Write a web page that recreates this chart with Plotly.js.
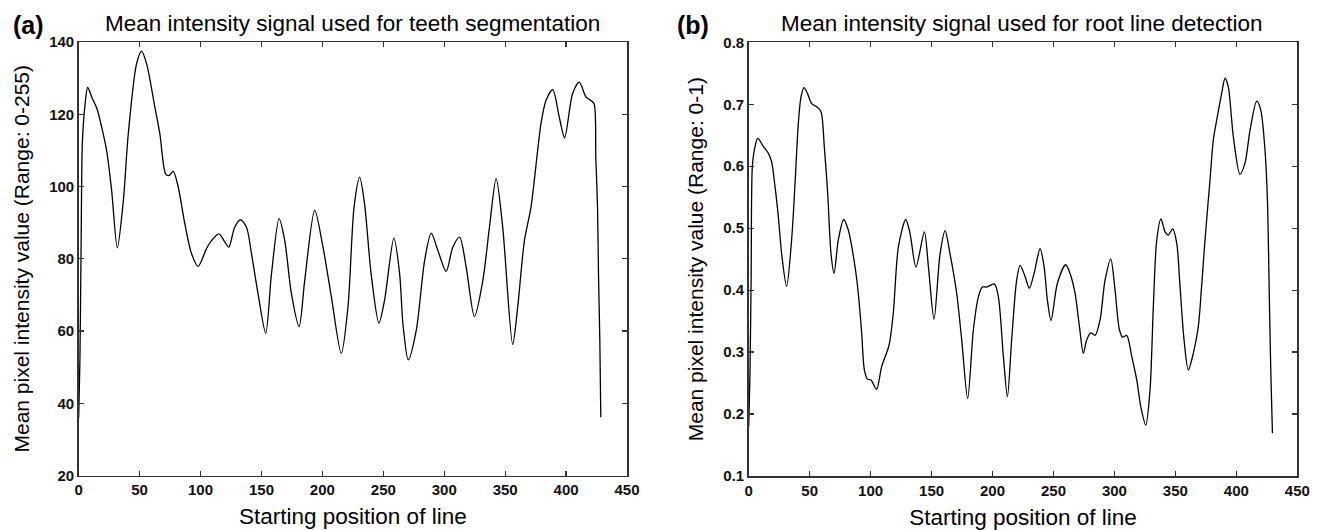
<!DOCTYPE html>
<html>
<head>
<meta charset="utf-8">
<script src="https://cdn.plot.ly/plotly-3.0.1.min.js"></script>
<style>html,body{margin:0;padding:0;background:#fff}#chart{width:1323px;height:530px}</style>
</head>
<body>
<div id="chart"></div>
<script>
// (a) Mean intensity signal used for teeth segmentation
const teethX = [0,1,2,3,5,7.4,11,15,18.8,22.9,27,31.7,36.6,40.7,47.5,51.6,55.7,62.5,66.6,71.3,74,77.6,81.7,87.1,92.6,98,104.9,109,115,120,123.2,128,132.8,137.7,141.8,147.2,153.5,158.2,164.5,169.1,174.6,180.9,185.5,193.7,200.5,207.4,215.5,221,226,230.6,234.6,240,246.4,251,258.7,263.4,266.1,270.5,277,283.9,289.3,294.8,301.6,307,312.6,318,324.8,331.7,337.1,342.6,348,356.2,360.3,365.8,371.2,379.4,383.5,389,394.4,398.8,405.3,410.8,416.3,420.4,423,424.4,425.8,426.6,427.7,428.5];
const teethY = [36,52,85,112,122,127.4,124.5,121.5,116.5,110,99,83,96,114.6,134,137.5,134,122,114.6,103.5,103,104.2,99.8,89.7,81.4,77.9,82.8,85,86.9,84.6,83.2,88.7,90.8,88.7,81.4,70.3,59.4,75.8,91.1,85,70.3,61.2,74,93.4,83.2,69.4,53.8,66.7,94.3,102.6,95.2,75.8,62.2,68.5,85.7,75.8,62,52,60.1,79.5,87.1,82.3,76.5,83.2,86,77.7,64,74,88.7,102.2,88.7,56.3,66.7,85,94.3,117.4,123.8,126.8,119.2,113.5,125.7,128.9,124.8,123.8,122.9,108.1,94.3,75.8,57.4,36.1];

// (b) Mean intensity signal used for root line detection
const rootX = [0,1,2,3,5,7.4,12,16.1,18.8,21.6,24.3,27,31.1,35.2,38,40.7,42.9,45.4,48.1,51.6,55.8,59.3,62,64.8,67.5,70,73.5,77.9,81.7,87.2,89.9,92.7,94.9,97.6,100.3,104.9,109,115.1,118.6,122.8,128.8,132.3,137.2,144.1,147.4,152,157,161.1,165.1,170.6,174.7,179.6,184.3,188.4,191.6,195.2,201.5,204.8,208.9,212.2,215.7,219.8,222.6,226.7,230.2,234.1,239,242.3,245,248,253.2,260,263.6,267.7,271.3,274.5,277.3,280.6,284.1,288.2,292.3,297,300.5,304.1,306.8,310.1,314.2,318.3,321.6,325.7,329.2,331.9,334.7,338.2,341.5,344.2,347.8,351.1,353.8,357.1,360.6,364.7,368.8,371.5,374.3,378.4,381.1,384.4,388,390.7,393.4,397.5,403,407.1,411.2,416.7,420,423.5,425.5,427.2,428.3,429.6];
const rootY = [0.18,0.26,0.42,0.6,0.63,0.645,0.632,0.621,0.607,0.567,0.519,0.459,0.406,0.481,0.572,0.669,0.712,0.727,0.718,0.701,0.696,0.688,0.632,0.556,0.459,0.427,0.481,0.514,0.497,0.438,0.395,0.330,0.271,0.256,0.255,0.24,0.276,0.311,0.363,0.470,0.514,0.492,0.437,0.494,0.438,0.353,0.459,0.496,0.459,0.395,0.320,0.225,0.336,0.389,0.405,0.405,0.41,0.389,0.293,0.228,0.320,0.416,0.44,0.422,0.403,0.427,0.467,0.438,0.384,0.351,0.411,0.441,0.427,0.395,0.341,0.298,0.32,0.331,0.327,0.352,0.416,0.45,0.40,0.336,0.324,0.327,0.293,0.255,0.212,0.182,0.239,0.373,0.481,0.515,0.494,0.489,0.499,0.476,0.406,0.32,0.271,0.298,0.341,0.406,0.481,0.578,0.642,0.680,0.718,0.742,0.728,0.648,0.587,0.605,0.658,0.705,0.691,0.626,0.545,0.373,0.266,0.169];

const xTicks = [0,50,100,150,200,250,300,350,400,450];
const teethTicks = [20,40,60,80,100,120,140];
const rootTicks = [0.1,0.2,0.3,0.4,0.5,0.6,0.7,0.8];
const rootTickText = ['0.1','0.2','0.3','0.4','0.5','0.6','0.7','0.8'];

const FONT = 'Liberation Sans, Arial, sans-serif';
const lineStyle = {color:'#000', width:1.3, shape:'spline', smoothing:0.8};

const traces = [
  {x: teethX, y: teethY, type:'scatter', mode:'lines', line: lineStyle, xaxis:'x', yaxis:'y', showlegend:false, hoverinfo:'x+y'},
  {x: rootX, y: rootY, type:'scatter', mode:'lines', line: lineStyle, xaxis:'x2', yaxis:'y2', showlegend:false, hoverinfo:'x+y'}
];

function axisBase(extra){
  return Object.assign({
    showgrid:false, zeroline:false, showline:true, linecolor:'#333', linewidth:1.5,
    mirror:'ticks', ticks:'inside', ticklen:5, tickwidth:1.2, tickcolor:'#333',
    tickfont:{family:FONT, size:15, color:'#111', weight:'bold'}, automargin:false, fixedrange:true
  }, extra);
}

const TITLE_SIZE = 22.5;
const XLABEL_SIZE = 22.5;
const YLABEL_SIZE = 21;
const layout = {
  width:1323, height:530,
  margin:{l:0, r:0, t:0, b:0},
  paper_bgcolor:'#fff', plot_bgcolor:'#fff',
  font:{family:FONT, color:'#000'},
  xaxis: axisBase({domain:[78.7/1323, 627/1323], range:[0,450], tickvals:xTicks, anchor:'y',
    title:{text:'Starting position of line', font:{family:FONT, size:XLABEL_SIZE}, standoff:11}}),
  yaxis: axisBase({domain:[1-475.5/530, 1-42/530], range:[20,140], tickvals:teethTicks, anchor:'x',
    title:{text:'Mean pixel intensity value (Range: 0-255)', font:{family:FONT, size:YLABEL_SIZE}, standoff:14}}),
  xaxis2: axisBase({domain:[748.7/1323, 1297.3/1323], range:[0,450], tickvals:xTicks, anchor:'y2',
    title:{text:'Starting position of line', font:{family:FONT, size:XLABEL_SIZE}, standoff:11}}),
  yaxis2: axisBase({domain:[1-476/530, 1-42.3/530], range:[0.1,0.8], tickvals:rootTicks, ticktext:rootTickText, anchor:'x2',
    title:{text:'Mean pixel intensity value (Range: 0-1)', font:{family:FONT, size:YLABEL_SIZE}, standoff:14}}),
  annotations:[
    {text:'Mean intensity signal used for teeth segmentation', xref:'paper', yref:'paper', x:352/1323, y:1-24/530, xanchor:'center', yanchor:'middle', showarrow:false, font:{family:FONT, size:TITLE_SIZE, color:'#000'}},
    {text:'Mean intensity signal used for root line detection', xref:'paper', yref:'paper', x:1022/1323, y:1-24/530, xanchor:'center', yanchor:'middle', showarrow:false, font:{family:FONT, size:TITLE_SIZE, color:'#000'}},
    {text:'<b>(a)</b>', xref:'paper', yref:'paper', x:11/1323, y:1-25/530, xanchor:'left', yanchor:'middle', showarrow:false, font:{family:FONT, size:25, color:'#000'}},
    {text:'<b>(b)</b>', xref:'paper', yref:'paper', x:675/1323, y:1-25/530, xanchor:'left', yanchor:'middle', showarrow:false, font:{family:FONT, size:25, color:'#000'}}
  ]
};

Plotly.newPlot('chart', traces, layout, {displayModeBar:false, staticPlot:true});
</script>
</body>
</html>
